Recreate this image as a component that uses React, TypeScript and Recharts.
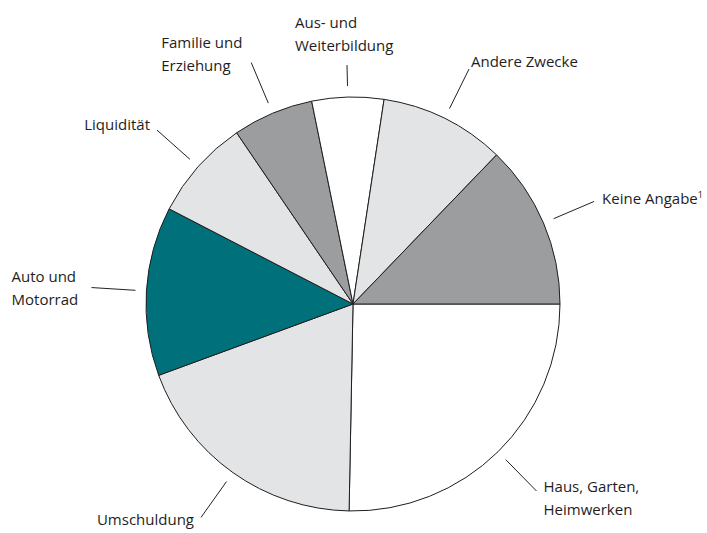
import { PieChart, Pie, Cell } from "recharts";

// Verwendungszweck (Anteile in %), im Uhrzeigersinn ab 3 Uhr
const categories = [
  "Haus, Garten, Heimwerken",
  "Umschuldung",
  "Auto und Motorrad",
  "Liquidität",
  "Familie und Erziehung",
  "Aus- und Weiterbildung",
  "Andere Zwecke",
  "Keine Angabe",
];
const shares = [25.3, 19.1, 13.2, 7.9, 6.3, 5.6, 9.8, 12.8];

// label text as it is broken into lines in the figure
const labelLines = [
  ["Haus, Garten,", "Heimwerken"],
  ["Umschuldung"],
  ["Auto und", "Motorrad"],
  ["Liquidität"],
  ["Familie und", "Erziehung"],
  ["Aus- und", "Weiterbildung"],
  ["Andere Zwecke"],
  ["Keine Angabe"],
];
const footnotes = ["", "", "", "", "", "", "", "1"];

const WHITE = "#ffffff";
const LIGHT = "#e3e4e6";
const DARK = "#9c9d9f";
const TEAL = "#00717b";
const sliceColors = [WHITE, LIGHT, TEAL, LIGHT, DARK, WHITE, LIGHT, DARK];

// where each label sits relative to the outer end of its leader line
const labelLayout = [
  { len: 55, anchor: "start", dx: 7, dy: 1 },
  { len: 55, anchor: "end", dx: -7, dy: 8 },
  { len: 55, anchor: "start", dx: -80, dy: -6 },
  { len: 55, anchor: "end", dx: -7, dy: 0 },
  { len: 55, anchor: "start", dx: -90, dy: -15 },
  { len: 32, anchor: "start", dx: -52, dy: -37 },
  { len: 55, anchor: "start", dx: 2, dy: -2 },
  { len: 55, anchor: "start", dx: 8, dy: 3 },
];

const data = categories.map((name, i) => ({ name, value: shares[i] }));

const RADIAN = Math.PI / 180;
const FONT = "'Open Sans', 'Noto Sans', sans-serif";
const LINE_H = 23;

// eslint-disable-next-line @typescript-eslint/no-explicit-any
function renderLabel(props: any) {
  const { cx, cy, midAngle, outerRadius, index } = props;
  const lay = labelLayout[index];
  const cos = Math.cos(-midAngle * RADIAN);
  const sin = Math.sin(-midAngle * RADIAN);
  const r0 = outerRadius + 11;
  const r1 = outerRadius + lay.len;
  const ex = cx + r1 * cos;
  const ey = cy + r1 * sin;
  const lines = labelLines[index];
  return (
    <g key={`lbl-${index}`}>
      <line
        x1={cx + r0 * cos}
        y1={cy + r0 * sin}
        x2={ex}
        y2={ey}
        stroke="#222"
        strokeWidth={1}
      />
      <text
        x={ex + lay.dx}
        y={ey + lay.dy}
        textAnchor={lay.anchor}
        fontFamily={FONT}
        fontSize={15}
        fill="#1e1e1e"
      >
        {lines.map((t, j) => (
          <tspan key={j} x={ex + lay.dx} dy={j === 0 ? 0 : LINE_H}>
            {t}
            {j === lines.length - 1 && footnotes[index] ? (
              <tspan fontSize={9} dy={-6}>
                {footnotes[index]}
              </tspan>
            ) : null}
          </tspan>
        ))}
      </text>
    </g>
  );
}

export default function App() {
  return (
    <div style={{ position: "absolute", left: 0, top: 0, width: 707, height: 533, background: "#fff" }}>
      <PieChart width={707} height={533} margin={{ top: 0, right: 0, bottom: 0, left: 0 }}>
        <Pie
          data={data}
          dataKey="value"
          nameKey="name"
          cx={353}
          cy={304}
          outerRadius={207}
          startAngle={0}
          endAngle={-360}
          stroke="#1e1e1e"
          strokeWidth={1}
          label={renderLabel}
          labelLine={false}
          isAnimationActive={false}
        >
          {data.map((_, i) => (
            <Cell key={i} fill={sliceColors[i]} />
          ))}
        </Pie>
      </PieChart>
    </div>
  );
}
